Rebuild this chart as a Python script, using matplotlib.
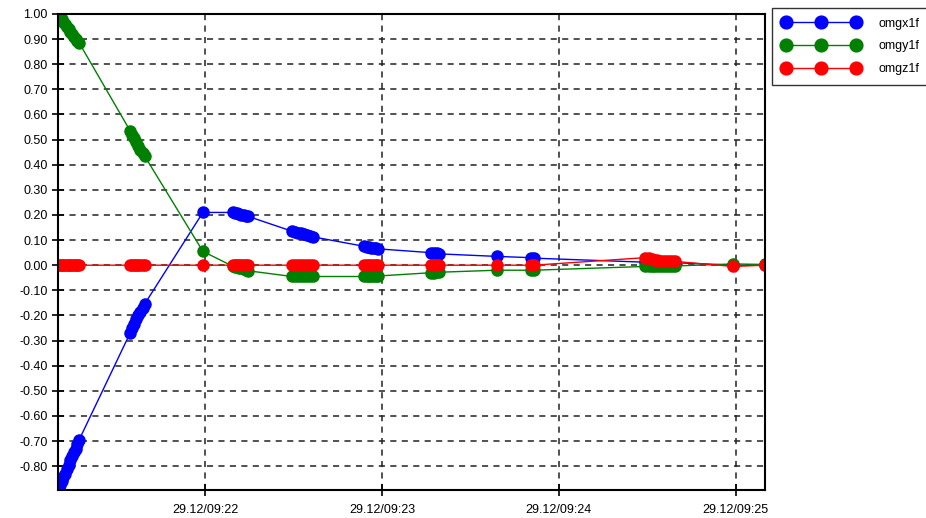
import datetime as dt
import matplotlib
matplotlib.use("Agg")
import matplotlib.pyplot as plt
import matplotlib.dates as mdates

plt.rcParams['font.family'] = ['Liberation Sans', 'DejaVu Sans']

t0 = dt.datetime(2010, 12, 29, 9, 21, 10)

# seconds after 09:21:10
secs = [0, 0.6, 1.2, 1.8, 2.4, 3, 3.6, 4.2, 4.8, 5.4, 6, 6.6, 7.2,
        24.5, 25.2, 25.9, 26.6, 27.3, 28, 28.7, 29.4,
        49.2,
        59.5, 60.2, 60.9, 61.6, 62.3, 63, 63.7, 64.4,
        79.5, 80.5, 81.5, 82.5, 83.5, 84.5, 85.5, 86.5,
        104, 104.8, 105.6, 106.4, 107.2, 108, 108.7,
        126.5, 127.5, 128.5, 129.5,
        149, 160.5, 161.5,
        199.3, 200.5, 201.5, 202.5, 203.5, 204.5, 205.5, 206.5, 207.5, 208.5, 209.5,
        229.2, 240]

omgx1f = [-0.89, -0.875, -0.86, -0.845, -0.83, -0.81, -0.795, -0.775, -0.76, -0.745, -0.73, -0.71, -0.695,
          -0.27, -0.25, -0.235, -0.215, -0.20, -0.185, -0.17, -0.155,
          0.21,
          0.21, 0.208, 0.206, 0.203, 0.201, 0.199, 0.197, 0.195,
          0.135, 0.132, 0.13, 0.127, 0.124, 0.12, 0.117, 0.113,
          0.075, 0.074, 0.072, 0.07, 0.069, 0.067, 0.065,
          0.05, 0.048, 0.047, 0.045,
          0.035, 0.03, 0.028,
          0.012, 0.012, 0.012, 0.011, 0.011, 0.011, 0.01, 0.01, 0.01, 0.01, 0.01,
          0.0, 0.0]

omgy1f = [1.00, 0.99, 0.98, 0.97, 0.96, 0.95, 0.94, 0.93, 0.92, 0.91, 0.90, 0.893, 0.885,
          0.535, 0.52, 0.505, 0.49, 0.475, 0.46, 0.448, 0.435,
          0.055,
          -0.005, -0.007, -0.009, -0.011, -0.013, -0.015, -0.018, -0.022,
          -0.045, -0.045, -0.045, -0.045, -0.045, -0.045, -0.045, -0.045,
          -0.045, -0.045, -0.045, -0.044, -0.044, -0.044, -0.043,
          -0.03, -0.03, -0.029, -0.028,
          -0.02, -0.02, -0.02,
          -0.005, -0.005, -0.004, -0.004, -0.004, -0.003, -0.003, -0.003, -0.003, -0.003, -0.003,
          0.005, 0.003]

omgz1f = [0, 0, 0, 0, 0, 0, 0, 0, 0, 0, 0, 0, 0,
          0, 0, 0, 0, 0, 0, 0, 0,
          0,
          0, 0, 0, 0, 0, 0, 0, 0,
          0, 0, 0, 0, 0, 0, 0, 0,
          0, 0, 0, 0, 0, 0, 0,
          0, 0, 0, 0,
          0, 0, 0,
          0.03, 0.027, 0.024, 0.021, 0.019, 0.017, 0.016, 0.015, 0.015, 0.015, 0.015,
          -0.005, 0.0]

times = [t0 + dt.timedelta(seconds=s) for s in secs]

fig = plt.figure(figsize=(9.26, 5.18), dpi=100)
ax = fig.add_axes([0.0626, 0.054, 0.7635, 0.919])

ax.plot(times, omgx1f, color='#0000ff', lw=1, marker='o', ms=8, label='omgx1f')
ax.plot(times, omgy1f, color='#008000', lw=1, marker='o', ms=8, label='omgy1f')
ax.plot(times, omgz1f, color='#ff0000', lw=1, marker='o', ms=8, label='omgz1f')

ax.set_xlim(t0, t0 + dt.timedelta(seconds=240))
ax.set_ylim(-0.895, 1.0)

ax.xaxis.set_major_locator(mdates.MinuteLocator())
ax.xaxis.set_major_formatter(mdates.DateFormatter('%d.%m/%H:%M'))
ax.set_yticks([i / 10 for i in range(-8, 11)])
ax.yaxis.set_major_formatter(matplotlib.ticker.FormatStrFormatter('%.2f'))

ax.grid(True, color='#222222', linestyle=(0, (4, 3.5)), linewidth=1.1)
ax.tick_params(direction='inout', length=8, width=1.2, labelsize=9, colors='black')
ax.tick_params(axis='x', pad=6)
for sp in ax.spines.values():
    sp.set_linewidth(1.5)

fig.legend(loc='upper left', bbox_to_anchor=(0.834, 0.985), numpoints=3,
           handlelength=6.2, fontsize=9, frameon=True, fancybox=False,
           edgecolor='black', borderpad=0.8, labelspacing=0.85, markerscale=1.15,
           handletextpad=1.5, borderaxespad=0)

plt.savefig('out.png', dpi=100)
